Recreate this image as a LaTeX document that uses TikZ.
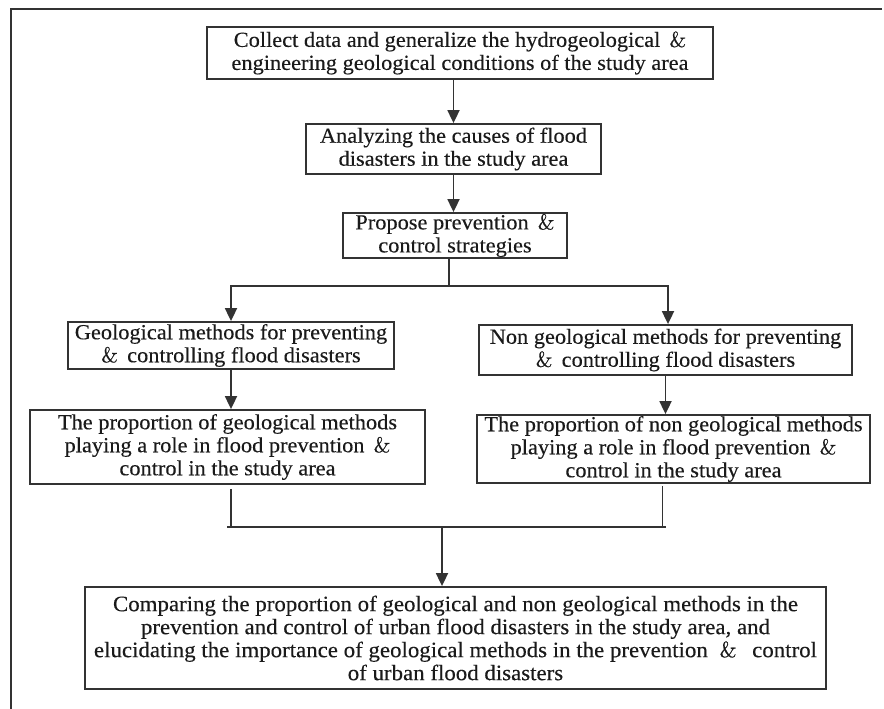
\documentclass[tikz,border=0pt]{standalone}
\usepackage{fontspec}
\setmainfont[FakeStretch=1.04,FakeBold=0.25]{Liberation Serif}
\newfontfamily\lmamp[FakeBold=0.6]{lmroman10-regular.otf}
\usetikzlibrary{arrows.meta,calc}
% ampersand taken from Latin Modern
\newcommand\amp{{\lmamp\&}}
\definecolor{inkline}{HTML}{333333}
\definecolor{inktext}{HTML}{1A1A1A}
\begin{document}
\begin{tikzpicture}[x=1pt,y=-1pt,
  box/.style={draw=inkline, line width=1.8pt, align=center, inner sep=0pt,
    text=inktext, font=\fontsize{21.5}{23}\selectfont},
  link/.style={draw=inkline, line width=1.8pt},
  flow/.style={link, -{Triangle[width=12pt,length=13pt]}}]
\useasboundingbox (0,0) rectangle (884,709);
% frame
\draw[link] (882,9) -- (11,9) -- (11,709);

% boxes
\node[box, minimum width=506pt, minimum height=52pt] (b1) at (460,53)
  {Collect data and generalize the hydrogeological \,\amp\\engineering geological conditions of the study area};
\node[box, minimum width=295pt, minimum height=50pt] (b2) at (453.5,149)
  {Analyzing the causes of flood\\disasters in the study area};
\node[box, minimum width=224pt, minimum height=45pt] (b3) at (455,235.5)
  {Propose prevention \,\amp\\control strategies};
\node[box, minimum width=326pt, minimum height=47pt] (g1) at (231,345.5)
  {Geological methods for preventing\\\amp\, controlling flood disasters};
\node[box, minimum width=373pt, minimum height=50pt] (n1) at (665.5,350)
  {Non geological methods for preventing\\\amp\, controlling flood disasters};
\node[box, minimum width=395pt, minimum height=74pt] (g2) at (227.5,447)
  {The proportion of geological methods\\playing a role in flood prevention \,\amp\\control in the study area};
\node[box, minimum width=393pt, minimum height=68pt] (n2) at (673.5,449)
  {The proportion of non geological methods\\playing a role in flood prevention \,\amp\\control in the study area};
\node[box, minimum width=741pt, minimum height=102pt, font=\fontsize{22}{23}\selectfont] (b6) at (455.5,638)
  {Comparing the proportion of geological and non geological methods in the\\
   prevention and control of urban flood disasters in the study area, and\\
   elucidating the importance of geological methods in the prevention \;\amp\;\, control\\
   of urban flood disasters};

% main spine
\draw[flow] (b2.north |- b1.south) -- (b2.north);
\draw[flow] (b2.south) -- (b2.south |- b3.north);

% split into the two branches
\coordinate (split) at ($(b3.south)+(-6,27)$);
\draw[link] (b3.south -| split) -- (split);
\draw[flow] (split) -| (g1.north);
\draw[flow] (split) -| ($(n1.north)+(2.5,0)$);

% branch steps
\draw[flow] (g1.south -| g1.north) -- (g1.north |- g2.north);
\draw[flow] (n1.south) -- (n1.south |- n2.north);

% merge bracket
\coordinate (ml) at ($(g2.south -| g1.north)+(-4,42)$);
\coordinate (mr) at ($(n2.south -| n1.north)+(0,43)$);
\draw[link] ($(g2.south -| g1.north)+(0,4)$) -- (ml -| g1.north);
\draw[link] ($(n2.south -| n1.north)+(-3,2)$) -- ($(mr)+(-3,0)$);
\draw[link] (ml) -- (mr);
\coordinate (mc) at (442,528);
\draw[flow] (mc) -- (mc |- b6.north);
\end{tikzpicture}
\end{document}
